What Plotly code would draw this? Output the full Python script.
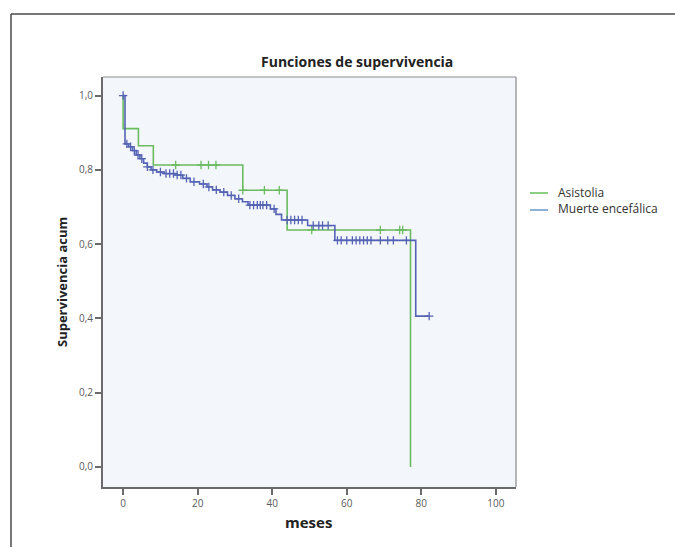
import numpy as np
import plotly.graph_objects as go

# Kaplan-Meier steps: time (months) and cumulative survival after each step
asistolia_t = [0.0, 0.0, 4.1, 8.1, 32.1, 44.0, 77.1]
asistolia_s = [1.0, 0.911, 0.865, 0.813, 0.745, 0.638, 0.0]
asistolia_cens = [14.1, 20.9, 22.9, 24.9, 32.1, 37.9, 41.9, 50.6, 69.0, 74.2, 75.0]

muerte_t = [0.0, 0.5, 1.5, 2.5, 3.5, 4.5, 5.5, 6.5, 7.5, 9.0, 11.0, 14.0, 16.0,
            18.0, 20.5, 22.5, 24.0, 26.0, 28.0, 30.0, 32.0, 33.5, 39.5, 41.0,
            42.5, 49.5, 56.8, 78.5, 82.1]
muerte_s = [1.0, 0.870, 0.862, 0.852, 0.840, 0.830, 0.818, 0.808, 0.800, 0.794,
            0.790, 0.786, 0.777, 0.768, 0.762, 0.754, 0.746, 0.740, 0.731, 0.722,
            0.714, 0.705, 0.695, 0.680, 0.665, 0.650, 0.610, 0.406, 0.406]
muerte_cens = [0.0, 1.0, 2.0, 3.0, 4.0, 5.0, 6.5, 8.0, 10.0, 11.5, 12.5, 13.5,
               14.5, 15.5, 17.0, 19.0, 21.5, 23.0, 25.0, 27.0, 29.0, 31.0, 34.0,
               35.0, 36.0, 36.8, 37.5, 38.5, 40.5, 44.0, 45.0, 46.0, 47.0, 48.0,
               51.0, 52.5, 53.5, 55.0, 57.5, 58.5, 60.0, 61.5, 62.5, 63.5, 64.5,
               65.5, 66.5, 69.0, 71.0, 72.5, 76.0, 82.1]

series_names = ["Asistolia", "Muerte encefálica"]

x_ticks = [0, 20, 40, 60, 80, 100]
y_ticks = [0.0, 0.2, 0.4, 0.6, 0.8, 1.0]
y_tick_labels = ["0,0", "0,2", "0,4", "0,6", "0,8", "1,0"]

GREEN = "#6bbb60"
BLUE = "#5563b4"
LEGEND_COLORS = ["#8ccf80", "#8fb1d6"]

FONT = "Open Sans, DejaVu Sans, sans-serif"


def surv_at(times, surv, t):
    """Survival value of the step curve at time t (right-continuous)."""
    idx = np.searchsorted(np.asarray(times), t, side="right") - 1
    return float(np.asarray(surv)[max(idx, 0)])


fig = go.Figure()

for name, t, s, cens, col in [
    (series_names[0], asistolia_t, asistolia_s, asistolia_cens, GREEN),
    (series_names[1], muerte_t, muerte_s, muerte_cens, BLUE),
]:
    fig.add_trace(go.Scatter(
        x=t, y=s, mode="lines", name=name, showlegend=False,
        line=dict(color=col, width=1.6, shape="hv"),
    ))
    fig.add_trace(go.Scatter(
        x=cens, y=[surv_at(t, s, c) for c in cens], mode="markers",
        showlegend=False, hoverinfo="skip",
        marker=dict(symbol="cross-thin", size=6, line=dict(color=col, width=1.3)),
    ))

PL, PR, PT, PB = 103, 516, 77, 487
W, H = 675, 547
pw, ph = PR - PL, PB - PT


def px_x(px):
    return (px - PL) / pw


def px_y(py):
    return (PB - py) / ph


axis_font = dict(family=FONT, size=10, color="#5a5a5a")

annotations = [
    dict(text="<b>Funciones de supervivencia</b>", xref="paper", yref="paper",
         x=px_x(357), y=px_y(62), showarrow=False, xanchor="center", yanchor="middle",
         font=dict(family=FONT, size=14, color="#222222")),
    dict(text="<b>Supervivencia acum</b>", xref="paper", yref="paper",
         x=px_x(62), y=px_y(282), showarrow=False, textangle=-90,
         xanchor="center", yanchor="middle",
         font=dict(family=FONT, size=13, color="#222222")),
    dict(text="<b>meses</b>", xref="paper", yref="paper",
         x=px_x(308), y=px_y(522), showarrow=False, xanchor="center", yanchor="middle",
         font=dict(family=FONT, size=15, color="#222222")),
]

shapes = [
    # light border around the top and right of the plotting area
    dict(type="line", xref="paper", yref="paper", x0=0, x1=1, y0=1, y1=1,
         line=dict(color="#8a8a8a", width=1.2)),
    dict(type="line", xref="paper", yref="paper", x0=1, x1=1, y0=0, y1=1,
         line=dict(color="#8a8a8a", width=1.2)),
    # outer chart frame
    dict(type="line", xref="paper", yref="paper", x0=px_x(11), x1=px_x(700),
         y0=px_y(14), y1=px_y(14), line=dict(color="#4a4a4a", width=1.5)),
    dict(type="line", xref="paper", yref="paper", x0=px_x(11), x1=px_x(11),
         y0=px_y(14), y1=px_y(560), line=dict(color="#4a4a4a", width=1.5)),
]

# legend: short coloured line plus label for each group
for i, (name, col) in enumerate(zip(series_names, LEGEND_COLORS)):
    yy = 193 + 17 * i
    shapes.append(dict(type="line", xref="paper", yref="paper",
                       x0=px_x(530), x1=px_x(548), y0=px_y(yy), y1=px_y(yy),
                       line=dict(color=col, width=2)))
    annotations.append(dict(text=name, xref="paper", yref="paper",
                            x=px_x(556), y=px_y(yy - 1), showarrow=False,
                            xanchor="left", yanchor="middle",
                            font=dict(family=FONT, size=12, color="#333333")))

fig.update_layout(
    width=W, height=H,
    margin=dict(l=PL, r=W - PR, t=PT, b=H - PB, pad=0),
    paper_bgcolor="white",
    plot_bgcolor="#f3f6fa",
    showlegend=False,
    xaxis=dict(
        range=[-5.4, 105.4], tickvals=x_ticks, ticks="outside", ticklen=6,
        tickwidth=1.5, tickcolor="#6a6a6a", showgrid=False, zeroline=False,
        showline=True, linecolor="#6a6a6a", linewidth=2, mirror=False,
        tickfont=axis_font,
    ),
    yaxis=dict(
        range=[-0.054, 1.05], tickvals=y_ticks, ticktext=y_tick_labels,
        ticks="outside", ticklen=6, tickwidth=1.5, tickcolor="#6a6a6a",
        showgrid=False, zeroline=False, showline=True, linecolor="#6a6a6a",
        linewidth=2, mirror=False, tickfont=axis_font,
    ),
    annotations=annotations,
    shapes=shapes,
)

fig.write_html("out.html")
